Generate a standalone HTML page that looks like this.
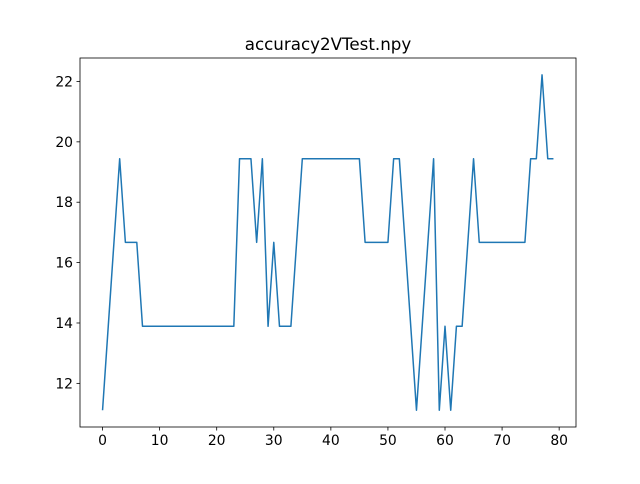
<!DOCTYPE html>
<html><head><meta charset="utf-8"><style>
body{margin:0;background:#fff;font-family:"DejaVu Sans","Liberation Sans",sans-serif}
</style></head><body>
<svg id="chart" width="640" height="480" xmlns="http://www.w3.org/2000/svg" font-family="DejaVu Sans, Liberation Sans, sans-serif">
<rect width="640" height="480" fill="#fff"/>
<text x="328" y="50" text-anchor="middle" font-size="16.7" fill="#000">accuracy2VTest.npy</text>
<g id="xticks"></g>
<g id="yticks"></g>
<polyline id="line" fill="none" stroke="#1f77b4" stroke-width="1.5" stroke-linejoin="round"/>
<rect x="80" y="58" width="496" height="369" fill="none" stroke="#000" stroke-width="0.8"/>
</svg>
<script>
const A=11.11,B=13.89,C=16.67,D=19.44,E=22.22;
const values=[A,B,C,D,C,C,C,B,B,B,B,B,B,B,B,B,B,B,B,B,B,B,B,B,D,D,D,C,D,B,C,B,B,B,C,D,D,D,D,D,D,D,D,D,D,D,C,C,C,C,C,D,D,C,B,A,B,C,D,A,B,A,B,B,C,D,C,C,C,C,C,C,C,C,C,D,D,E,D,D];
const xTicks=[0,10,20,30,40,50,60,70,80];
const yTicks=[12,14,16,18,20,22];
const L=80,R=576,T=58,Bt=427;
const x0=-3.95,x1=82.95,y0=10.555,y1=22.777;
const sx=v=>L+(v-x0)/(x1-x0)*(R-L);
const sy=v=>Bt-(v-y0)/(y1-y0)*(Bt-T);
const ns="http://www.w3.org/2000/svg";
document.getElementById('line').setAttribute('points',values.map((v,i)=>sx(i).toFixed(2)+','+sy(v).toFixed(2)).join(' '));
const xg=document.getElementById('xticks'),yg=document.getElementById('yticks');
xTicks.forEach(t=>{const x=sx(t);
const l=document.createElementNS(ns,'line');


l.setAttribute('x1',x);l.setAttribute('x2',x);l.setAttribute('y1',Bt);l.setAttribute('y2',Bt+3.5);l.setAttribute('stroke','#000');l.setAttribute('stroke-width','0.8');xg.appendChild(l);
const tx=document.createElementNS(ns,'text');


tx.setAttribute('x',x);tx.setAttribute('y',Bt+18);tx.setAttribute('text-anchor','middle');tx.setAttribute('font-size','13.9');tx.textContent=t;xg.appendChild(tx);});
yTicks.forEach(t=>{const y=sy(t);
const l=document.createElementNS(ns,'line');


l.setAttribute('x1',L-3.5);l.setAttribute('x2',L);l.setAttribute('y1',y);l.setAttribute('y2',y);l.setAttribute('stroke','#000');l.setAttribute('stroke-width','0.8');yg.appendChild(l);
const tx=document.createElementNS(ns,'text');


tx.setAttribute('x',L-7);tx.setAttribute('y',y+5);tx.setAttribute('text-anchor','end');tx.setAttribute('font-size','13.9');tx.textContent=t;yg.appendChild(tx);});
</script>
</body></html>
